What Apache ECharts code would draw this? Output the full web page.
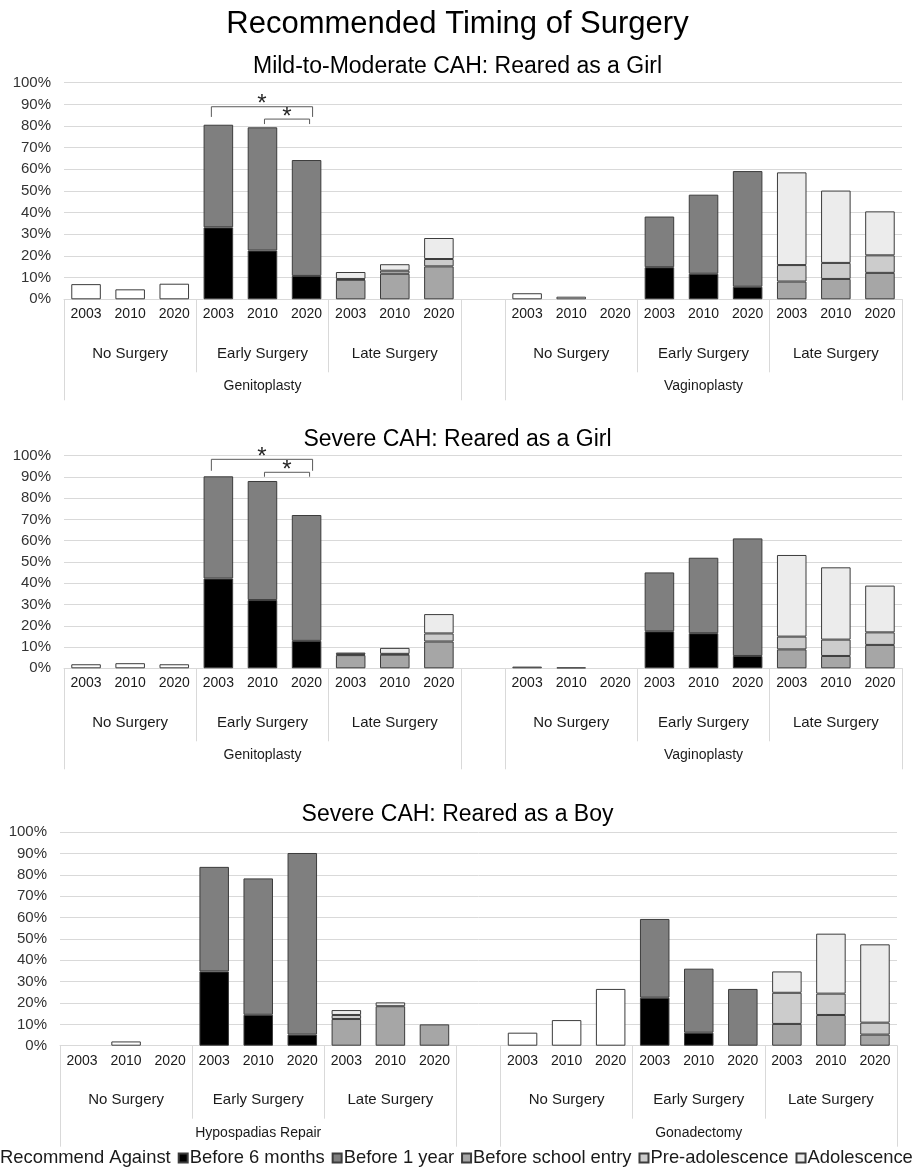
<!DOCTYPE html>
<html>
<head>
<meta charset="utf-8">
<title>Recommended Timing of Surgery</title>
<script src="https://cdn.jsdelivr.net/npm/echarts@6/dist/echarts.min.js"></script>
<style>
  html, body { margin: 0; padding: 0; background: #ffffff; }
  #chart { width: 915px; height: 1168px; }
</style>
</head>
<body>
<div id="chart"></div>
<script>
// ---- Category labels ----
const years = ['2003', '2010', '2020'];
const subgroups = ['No Surgery', 'Early Surgery', 'Late Surgery'];
const timingNames = ['Recommend Against', 'Before 6 months', 'Before 1 year',
                     'Before school entry', 'Pre-adolescence', 'Adolescence'];
const yTicks = [0, 10, 20, 30, 40, 50, 60, 70, 80, 90, 100];

const mainTitle = 'Recommended Timing of Surgery';
const panelTitles = ['Mild-to-Moderate CAH: Reared as a Girl',
                     'Severe CAH: Reared as a Girl',
                     'Severe CAH: Reared as a Boy'];
const girlProcedures = ['Genitoplasty', 'Vaginoplasty'];
const boyProcedures = ['Hypospadias Repair', 'Gonadectomy'];

// ---- Percentages (first procedure 2003/2010/2020, then second procedure 2003/2010/2020) ----
// Mild-to-moderate CAH, reared as a girl
const mildGirlAgainst  = [7.0, 4.6, 7.2, 2.8, 1.2, 0];        // No Surgery
const mildGirlBefore6m = [33.2, 22.5, 10.8, 14.8, 11.8, 5.8]; // Early Surgery
const mildGirlBefore1y = [47.4, 56.9, 53.5, 23.4, 36.5, 53.4];
const mildGirlSchool   = [9.0, 11.8, 15.2, 8.2, 9.4, 12.2];   // Late Surgery
const mildGirlPreAdol  = [0.4, 1.4, 3.4, 7.6, 7.4, 8.1];
const mildGirlAdol     = [3.2, 3.0, 9.7, 42.8, 33.4, 20.3];

// Severe CAH, reared as a girl
const sevGirlAgainst  = [1.9, 2.4, 1.9, 0.8, 0.4, 0];
const sevGirlBefore6m = [42.2, 32.1, 12.9, 17.4, 16.5, 5.8];
const sevGirlBefore1y = [48.1, 56.0, 59.2, 27.7, 35.5, 55.3];
const sevGirlSchool   = [6.2, 6.4, 12.6, 8.9, 5.8, 11.0];
const sevGirlPreAdol  = [0.4, 0.4, 3.8, 6.0, 7.7, 5.9];
const sevGirlAdol     = [0.8, 2.8, 9.1, 38.4, 34.0, 22.0];

// Severe CAH, reared as a boy
const sevBoyAgainst  = [0, 2.0, 0, 6.1, 12.0, 26.6];
const sevBoyBefore6m = [34.8, 14.5, 5.2, 22.5, 6.1, 0];
const sevBoyBefore1y = [49.0, 63.9, 85.1, 36.9, 30.0, 26.6];
const sevBoySchool   = [12.5, 18.5, 10.0, 10.2, 14.4, 5.2];
const sevBoyPreAdol  = [1.9, 0, 0, 14.6, 10.0, 5.6];
const sevBoyAdol     = [2.3, 1.8, 0, 10.0, 28.1, 36.7];

// Significance brackets: [from category, to category, bracket level %, leg end %]
const mildGirlBrackets = [[3, 5, 88.9, 84.2], [4, 5, 83.2, 80.9]];
const sevGirlBrackets  = [[3, 5, 98.3, 92.9], [4, 5, 92.2, 90.1]];

// ---- Styling ----
const FONT = '"Liberation Sans", Arial, sans-serif';
const fills = ['#ffffff', '#000000', '#7f7f7f', '#a6a6a6', '#cccccc', '#ececec'];
const edge = '#3c3c3c';
const lightLine = '#d9d9d9';
const bracketInsets = [[-7, 6], [2, 3]];

const gridBoxes = [
  { left: 64, right: 13, top: 82.7, height: 216.6 },
  { left: 64, right: 13, top: 455.7, height: 212.6 },
  { left: 60, right: 18, top: 832.3, height: 213.4 }
];
const titleTops = [50, 423, 798];

// ---- Assembly ----
// Axis layout: 3 subgroups x 3 years, one empty slot, 3 subgroups x 3 years
const GAP = 9;
const SLOT = [[0, 10], [3, 13], [6, 16]]; // first index of each subgroup for each procedure
const N = 19;

function spread(values, subgroupIdx) {
  const out = new Array(N).fill('-');
  values.forEach((v, i) => {
    const proc = Math.floor(i / 3);
    const yr = i % 3;
    out[SLOT[subgroupIdx][proc] + yr] = v > 0 ? v : '-';
  });
  return out;
}

const yearCats = [];
const subgroupCats = [];
for (let i = 0; i < N; i++) { yearCats.push(''); subgroupCats.push(''); }
SLOT.forEach((starts, s) => starts.forEach(st => {
  years.forEach((y, k) => { yearCats[st + k] = y; });
  subgroupCats[st + 1] = subgroups[s];
}));
function groupCats(procs) {
  const cats = new Array(N).fill('');
  cats[4] = procs[0];
  cats[14] = procs[1];
  return cats;
}

const panels = [
  { title: panelTitles[0], procs: girlProcedures,
    values: [mildGirlAgainst, mildGirlBefore6m, mildGirlBefore1y, mildGirlSchool, mildGirlPreAdol, mildGirlAdol],
    brackets: mildGirlBrackets },
  { title: panelTitles[1], procs: girlProcedures,
    values: [sevGirlAgainst, sevGirlBefore6m, sevGirlBefore1y, sevGirlSchool, sevGirlPreAdol, sevGirlAdol],
    brackets: sevGirlBrackets },
  { title: panelTitles[2], procs: boyProcedures,
    values: [sevBoyAgainst, sevBoyBefore6m, sevBoyBefore1y, sevBoySchool, sevBoyPreAdol, sevBoyAdol],
    brackets: [] }
];
const subgroupOfSeries = [0, 1, 1, 2, 2, 2];

const titles = [{
  text: mainTitle, left: 'center', top: 4,
  textStyle: { fontFamily: FONT, fontSize: 31, fontWeight: 'normal', color: '#000000' }
}];
const grids = [], xAxes = [], yAxes = [], series = [];

panels.forEach((p, g) => {
  titles.push({
    text: p.title, left: 'center', top: titleTops[g],
    textStyle: { fontFamily: FONT, fontSize: 23, fontWeight: 'normal', color: '#000000' }
  });
  grids.push(Object.assign({ containLabel: false }, gridBoxes[g]));

  // years
  xAxes.push({
    type: 'category', gridIndex: g, position: 'bottom', data: yearCats,
    axisLine: { show: true, lineStyle: { color: lightLine, width: 1 } },
    axisTick: { show: false },
    axisLabel: { interval: 0, margin: 8, fontFamily: FONT, fontSize: 14, color: '#1a1a1a' },
    splitLine: { show: false }
  });
  // surgery timing subgroups
  xAxes.push({
    type: 'category', gridIndex: g, position: 'bottom', data: subgroupCats,
    axisLine: { show: false },
    axisTick: { show: true, length: 73, interval: (i) => i === 3 || i === 6 || i === 13 || i === 16,
                lineStyle: { color: lightLine, width: 1 } },
    axisLabel: { interval: 0, margin: 47, fontFamily: FONT, fontSize: 15, color: '#1a1a1a' },
    splitLine: { show: false }
  });
  // procedures
  xAxes.push({
    type: 'category', gridIndex: g, position: 'bottom', data: groupCats(p.procs),
    axisLine: { show: false },
    axisTick: { show: true, length: 101, interval: (i) => i === 0 || i === GAP || i === GAP + 1,
                lineStyle: { color: lightLine, width: 1 } },
    axisLabel: { interval: 0, margin: 80, fontFamily: FONT, fontSize: 14, color: '#1a1a1a' },
    splitLine: { show: false }
  });

  yAxes.push({
    type: 'value', gridIndex: g, min: yTicks[0], max: yTicks[yTicks.length - 1], interval: yTicks[1] - yTicks[0],
    axisLine: { show: false }, axisTick: { show: false },
    axisLabel: { formatter: '{value}%', margin: 13, fontFamily: FONT, fontSize: 15, color: '#333333' },
    splitLine: { lineStyle: { color: lightLine, width: 1 } }
  });

  p.values.forEach((vals, s) => {
    series.push({
      type: 'bar', name: timingNames[s], xAxisIndex: g * 3, yAxisIndex: g,
      stack: 'panel' + g, barCategoryGap: '33%',
      data: spread(vals, subgroupOfSeries[s]),
      itemStyle: { color: fills[s], borderColor: edge, borderWidth: 1 },
      emphasis: { disabled: true },
      animation: false
    });
  });

  if (p.brackets.length) {
    series.push({
      type: 'custom', xAxisIndex: g * 3, yAxisIndex: g, silent: true, clip: false, animation: false,
      encode: { x: [0, 1], y: [2, 3] },
      data: p.brackets,
      renderItem: function (params, api) {
        const inset = bracketInsets[params.dataIndex];
        const top = api.coord([api.value(0), api.value(2)]);
        const x1 = top[0] + inset[0];
        const x2 = api.coord([api.value(1), api.value(2)])[0] + inset[1];
        const y = top[1];
        const yEnd = api.coord([api.value(0), api.value(3)])[1];
        return {
          type: 'group',
          children: [
            { type: 'polyline',
              shape: { points: [[x1, yEnd], [x1, y], [x2, y], [x2, yEnd]] },
              style: { stroke: '#5a5a5a', lineWidth: 1, fill: null } },
            { type: 'text', x: (x1 + x2) / 2, y: y - 2,
              style: { text: '*', font: '24px ' + FONT, fill: '#262626', align: 'center', verticalAlign: 'middle' } }
          ]
        };
      }
    });
  }
});

const chart = echarts.init(document.getElementById('chart'), null, { renderer: 'canvas' });
chart.setOption({
  backgroundColor: '#ffffff',
  animation: false,
  title: titles,
  grid: grids,
  xAxis: xAxes,
  yAxis: yAxes,
  legend: {
    bottom: 1, left: -12, width: 960, padding: 0,
    data: timingNames.map((n, i) => i === 0
      ? { name: n, itemStyle: { color: 'rgba(0,0,0,0)', borderColor: 'rgba(0,0,0,0)' } }
      : n),
    icon: 'rect', itemWidth: 9, itemHeight: 9, itemGap: 7,
    selectedMode: false,
    textStyle: { fontFamily: FONT, fontSize: 18.4, color: '#1a1a1a', padding: [0, 0, 0, -3] }
  },
  series: series
});
</script>
</body>
</html>
